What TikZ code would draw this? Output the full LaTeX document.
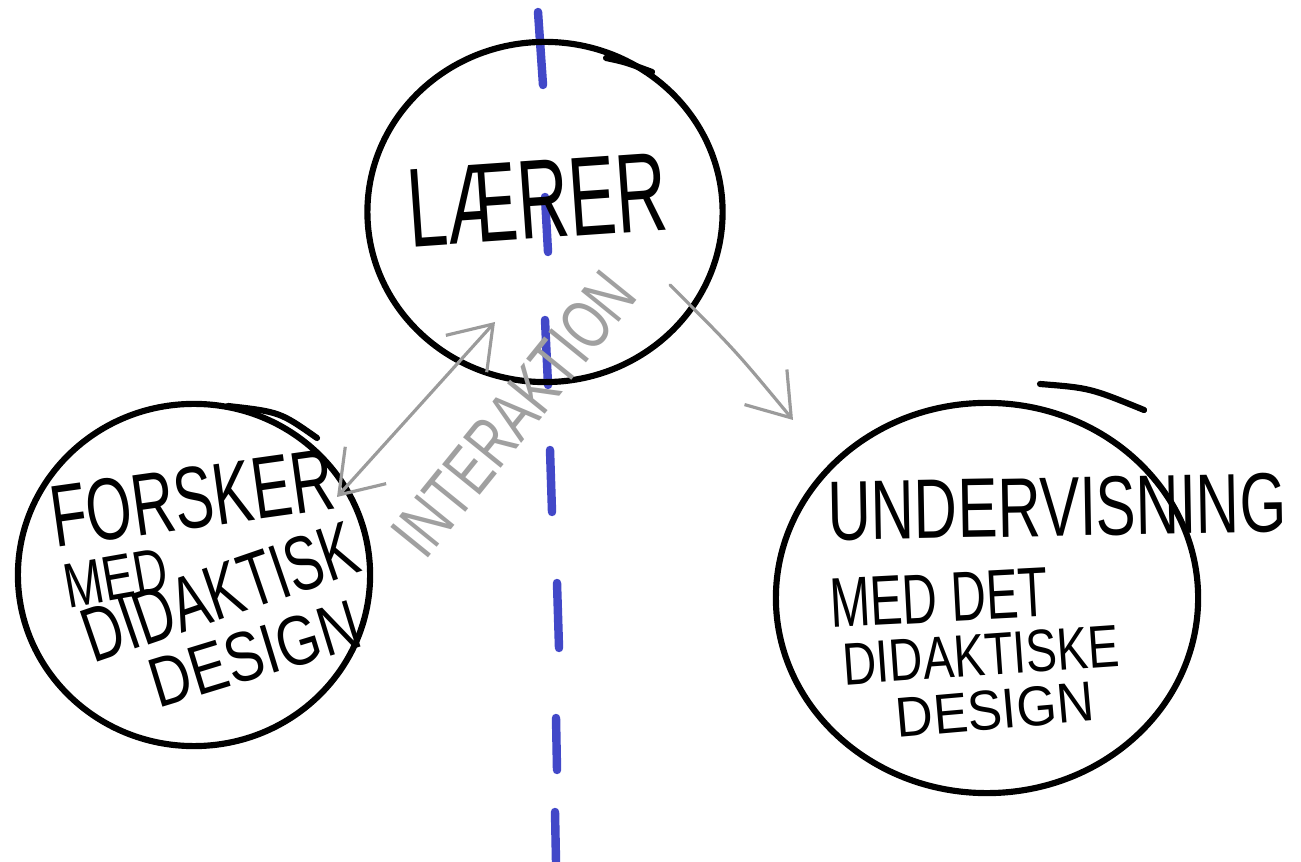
\documentclass[tikz,border=0pt]{standalone}
\usepackage{fontspec}
\setmainfont{Liberation Sans}
\usetikzlibrary{shapes.geometric,arrows.meta}
\definecolor{dashblue}{RGB}{66,72,200}
\definecolor{arrowgray}{RGB}{155,155,155}
\definecolor{textgray}{RGB}{160,160,160}
\newcommand{\sx}[2]{\scalebox{#1}[1]{#2}}
\newcommand{\fs}[1]{\fontsize{#1}{#1}\selectfont}
\tikzset{
  circ/.style={draw, line width=1.75pt, ellipse, inner sep=0pt},
  over/.style={line width=1.75pt, line cap=round},
  bluedash/.style={draw=dashblue, line width=2.4pt, line cap=round},
  garrow/.style={draw=arrowgray, line width=0.9pt, line cap=round,
    -{Straight Barb[length=0.4cm,width=0.55cm,line width=0.9pt]}},
  gdouble/.style={draw=arrowgray, line width=0.9pt, line cap=round,
    {Straight Barb[length=0.4cm,width=0.55cm,line width=0.9pt]}-{Straight Barb[length=0.4cm,width=0.55cm,line width=0.9pt]}},
  lbl/.style={inner sep=0pt, text=black},
}
\begin{document}
\begin{tikzpicture}[x=0.01cm,y=-0.01cm]
\useasboundingbox (0,0) rectangle (1301,862);
\fill[white] (0,0) rectangle (1301,862);

% blue dashed vertical line
\coordinate (b1a) at (538,12);  \coordinate (b1b) at (543,85);
\coordinate (b2a) at (545,197); \coordinate (b2b) at (548,252);
\coordinate (b3a) at (545,320); \coordinate (b3b) at (548,385);
\coordinate (b4a) at (550,450); \coordinate (b4b) at (552,512);
\coordinate (b5a) at (557,583); \coordinate (b5b) at (559,648);
\coordinate (b6a) at (556,718); \coordinate (b6b) at (557,770);
\coordinate (b7a) at (555,812); \coordinate (b7b) at (556,862);
\foreach \i in {1,...,7} { \draw[bluedash] (b\i a) -- (b\i b); }

% circles
\node[circ, minimum width=3.55cm, minimum height=3.40cm] (laerer) at (545,212) {};
\node[circ, minimum width=3.52cm, minimum height=3.42cm] (forsker) at (194,575) {};
\node[circ, minimum width=4.22cm, minimum height=3.90cm] (underv) at (987,598) {};

% overshoot strokes of the hand-drawn circles
\coordinate (o1a) at (606,58);  \coordinate (o1b) at (652,72);
\draw[over] (o1a) .. controls (625,62) .. (o1b);
\coordinate (o2a) at (228,406); \coordinate (o2b) at (317,438);
\draw[over] (o2a) .. controls (280,412) .. (o2b);
\coordinate (o3a) at (1040,384); \coordinate (o3b) at (1144,410);
\draw[over] (o3a) .. controls (1090,388) .. (o3b);

% texts
\node[lbl, rotate=4] (t1) at (537,200) {\fs{32}\sx{0.63}{LÆRER}};
\node[lbl, rotate=8] (t2) at (192,498) {\fs{25}\sx{0.67}{FORSKER}};
\node[lbl, rotate=10] (t3) at (116,578) {\fs{18}\sx{0.74}{MED}};
\node[lbl, rotate=19] (t4) at (220,592) {\fs{22}\sx{0.70}{DIDAKTISK}};
\node[lbl, rotate=17] (t5) at (255,654) {\fs{20}\sx{0.80}{DESIGN}};
\node[lbl, rotate=1] (t6) at (1057,507) {\fs{24}\sx{0.71}{UNDERVISNING}};
\node[lbl, rotate=3] (t7) at (939,598) {\fs{20}\sx{0.69}{MED DET}};
\node[lbl, rotate=4] (t8) at (981,655) {\fs{17}\sx{0.78}{DIDAKTISKE}};
\node[lbl, rotate=5] (t9) at (995,710) {\fs{16}\sx{0.92}{DESIGN}};
\node[lbl, text=textgray, rotate=51] (t10) at (514,414) {\fs{20}\sx{0.72}{INTERAKTION}};

% arrows
\coordinate (a1s) at (337,497);
\coordinate (a1e) at (495,322);
\draw[gdouble] (a1s) -- (a1e);
\coordinate (a2s) at (670,285);
\coordinate (a2e) at (793,420);
\draw[garrow] (a2s) .. controls (735,350) .. (a2e);
\end{tikzpicture}
\end{document}
